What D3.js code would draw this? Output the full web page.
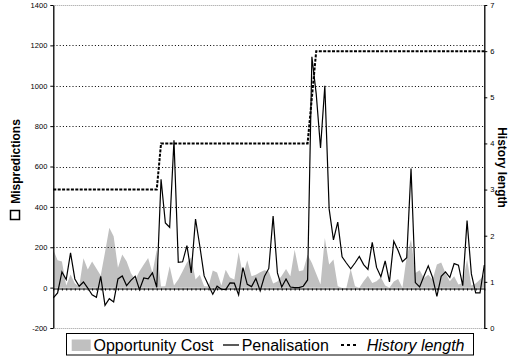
<!DOCTYPE html>
<html>
<head>
<meta charset="utf-8">
<script src="https://cdn.jsdelivr.net/npm/d3@7"></script>
<style>
  html, body { margin: 0; padding: 0; background: #fff; }
  svg { display: block; font-family: "Liberation Sans", Arial, Helvetica, sans-serif; }
</style>
</head>
<body>
<svg id="chart" width="508" height="359"></svg>
<script>
// ---- data ----
const categories = d3.range(1, 102);
const opportunityCost = [188,135,130,10,65,20,5,145,90,130,95,60,175,296,255,98,164,131,73,40,
  81,114,147,73,188,5,7,106,10,40,81,125,150,40,64,7,5,85,75,10,
  89,50,40,175,60,135,56,64,76,86,80,20,30,59,92,56,188,81,86,163,
  122,69,15,246,114,139,7,0,0,92,7,0,31,59,23,31,51,10,0,30,
  43,0,155,238,73,86,48,64,40,114,125,73,31,56,15,23,140,10,20,40,64];
const penalisation = [-51,-26,78,40,172,43,7,28,-2,-36,-48,56,-88,-55,-71,43,58,10,36,56,
  -10,48,43,73,2,537,320,299,730,125,128,208,73,340,205,58,12,-33,7,-8,
  -10,23,22,-36,99,16,5,45,-16,56,95,354,73,3,43,3,0,0,7,38,
  1143,960,692,1000,390,236,325,153,122,93,122,154,114,90,224,100,54,132,28,230,
  184,128,148,590,25,3,58,108,50,-43,56,78,50,119,111,10,332,68,-26,-26,112];
const historyLength = [3,3,3,3,3,3,3,3,3,3,3,3,3,3,3,3,3,3,3,3,3,3,3,3,3,
  4,4,4,4,4,4,4,4,4,4,4,4,4,4,4,4,4,4,4,4,4,4,4,4,4,4,4,4,4,4,4,4,4,4,4,
  5,6,6,6,6,6,6,6,6,6,6,6,6,6,6,6,6,6,6,6,6,6,6,6,6,6,6,6,6,6,6,6,6,6,6,6,6,6,6,6,6];
const leftTicks = [-200,0,200,400,600,800,1000,1200,1400];
const rightTicks = [0,1,2,3,4,5,6,7];
const legendLabels = ["Opportunity Cost", "Penalisation", "History length"];

// ---- layout ----
const svg = d3.select("#chart");
const L = 53.3, R = 484.3, T = 5, B = 328;

const x = d3.scalePoint().domain(categories).range([L, R]);
const yL = d3.scaleLinear().domain([-200, 1400]).range([B, T]);
const yR = d3.scaleLinear().domain([0, 7]).range([B, T]);

// area
const area = d3.area()
  .x((d, i) => x(categories[i]))
  .y0(yL(0))
  .y1(d => yL(d));
svg.append("path").datum(opportunityCost)
  .attr("d", area).attr("fill", "#c0c0c0").attr("stroke", "none");

// gridlines
svg.append("g").selectAll("line").data(leftTicks.filter(v => v !== 0)).join("line")
  .attr("x1", L).attr("x2", R)
  .attr("y1", d => Math.round(yL(d)) + 0.5).attr("y2", d => Math.round(yL(d)) + 0.5)
  .attr("stroke", d => (d === 1400 || d === -200) ? "#999" : "#000")
  .attr("stroke-width", 1)
  .attr("stroke-dasharray", d => (d === 1400 || d === -200) ? "1,1" : "1,2.2");

// x axis at zero
const xAxis = d3.axisBottom(x).tickSize(2).tickSizeOuter(0).tickFormat("");
const gx = svg.append("g").attr("transform", `translate(0,${Math.round(yL(0)) + 0.5})`).call(xAxis);
gx.select(".domain").attr("stroke", "#000").attr("stroke-width", 1.2);
gx.selectAll(".tick line").attr("stroke", "#000");

// left axis
const gl = svg.append("g").attr("transform", `translate(${L},0)`)
  .call(d3.axisLeft(yL).tickValues(leftTicks).tickSize(3).tickSizeOuter(0).tickPadding(3).tickFormat(d => String(d)));
gl.select(".domain").attr("stroke-width", 1.3);
gl.selectAll("text").attr("font-size", 7.5).attr("font-family", "Liberation Sans, Arial, sans-serif").attr("fill", "#000");

// right axis
const gr = svg.append("g").attr("transform", `translate(${R},0)`)
  .call(d3.axisRight(yR).tickValues(rightTicks).tickSize(3).tickSizeOuter(0).tickPadding(3).tickFormat(d => String(d)));
gr.select(".domain").attr("stroke-width", 1.3);
gr.selectAll("text").attr("font-size", 7.5).attr("font-family", "Liberation Sans, Arial, sans-serif").attr("fill", "#000");

// penalisation line
const line = d3.line().x((d, i) => x(categories[i])).y(d => yL(d));
svg.append("path").datum(penalisation)
  .attr("d", line).attr("fill", "none").attr("stroke", "#000").attr("stroke-width", 1.2)
  .attr("stroke-linejoin", "miter");

// history length line
const hline = d3.line().x((d, i) => x(categories[i])).y(d => yR(d));
svg.append("path").datum(historyLength)
  .attr("d", hline).attr("fill", "none").attr("stroke", "#000").attr("stroke-width", 2)
  .attr("stroke-dasharray", "3,1.4");

// axis titles
svg.append("rect").attr("x", 10.5).attr("y", 210.5).attr("width", 9).attr("height", 9)
  .attr("fill", "#fff").attr("stroke", "#000").attr("stroke-width", 1.5);
svg.append("text").attr("transform", "translate(20,161.5) rotate(-90)")
  .attr("text-anchor", "middle").attr("font-size", 12).attr("font-weight", "bold")
  .text("Mispredictions");
svg.append("text").attr("transform", "translate(498,167.5) rotate(90)")
  .attr("text-anchor", "middle").attr("font-size", 12).attr("font-weight", "bold")
  .text("History length");

// legend
const lg = svg.append("g");
lg.append("rect").attr("x", 66.5).attr("y", 333.5).attr("width", 407).attr("height", 21.5)
  .attr("fill", "#fff").attr("stroke", "#000").attr("stroke-width", 1);
lg.append("rect").attr("x", 71.7).attr("y", 339.5).attr("width", 19).attr("height", 11.5).attr("fill", "#c0c0c0");
lg.append("text").attr("x", 93.5).attr("y", 350.8).attr("font-size", 16).text(legendLabels[0]);
lg.append("line").attr("x1", 223).attr("x2", 239).attr("y1", 345).attr("y2", 345)
  .attr("stroke", "#000").attr("stroke-width", 1.3);
lg.append("text").attr("x", 241.7).attr("y", 350.8).attr("font-size", 16).text(legendLabels[1]);
lg.append("line").attr("x1", 341).attr("x2", 358).attr("y1", 345).attr("y2", 345)
  .attr("stroke", "#000").attr("stroke-width", 2).attr("stroke-dasharray", "3,3");
lg.append("text").attr("x", 366.7).attr("y", 350.8).attr("font-size", 16).attr("font-style", "italic").text(legendLabels[2]);
</script>
</body>
</html>
